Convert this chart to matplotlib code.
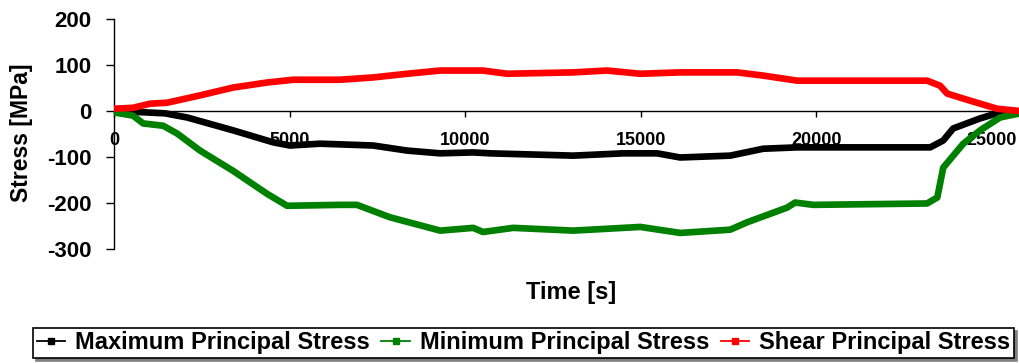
import matplotlib
matplotlib.use("Agg")
import matplotlib.pyplot as plt
from matplotlib.lines import Line2D

plt.rcParams['font.family'] = ['Liberation Sans', 'DejaVu Sans']
plt.rcParams['font.weight'] = 'bold'
plt.rcParams['axes.unicode_minus'] = False

# Time [s] and stress [MPa] for each principal stress series
max_time = [0, 370, 1450, 2080, 3390, 4530, 5010, 5870, 7380, 8350, 9290, 10230,
            10710, 12140, 13080, 14500, 15470, 16125, 17550, 18490, 19460, 20880,
            23250, 23620, 23900, 24670, 25240, 25810]
max_stress = [0, -1, -5, -14, -42, -68, -75, -71, -75, -86, -92, -90,
              -92, -95, -97, -92, -92, -101, -97, -82, -79, -79,
              -79, -64, -38, -16, -3, -3]

min_time = [0, 540, 830, 1400, 1800, 2450, 3390, 4360, 4930, 6440, 6920, 7860,
            9290, 10230, 10510, 11370, 13080, 14990, 16125, 17550, 18030, 19170,
            19400, 19920, 23160, 23450, 23620, 24190, 24670, 25240, 25810]
min_stress = [-3, -10, -27, -32, -49, -86, -130, -180, -206, -204, -204, -231,
              -260, -254, -263, -254, -260, -252, -265, -258, -242, -210,
              -199, -204, -201, -188, -123, -71, -42, -14, -5]

shear_time = [0, 540, 1030, 1510, 2450, 3390, 4360, 5100, 6440, 7380, 8350, 9290,
              10510, 11200, 13080, 14040, 14990, 16125, 17750, 18490, 19460, 23160,
              23530, 23730, 24190, 24670, 25150, 25810]
shear_stress = [5, 7, 16, 18, 34, 51, 62, 68, 68, 73, 81, 88,
                88, 81, 84, 88, 81, 84, 84, 77, 66, 66,
                55, 38, 27, 16, 5, 0]

series_names = ["Maximum Principal Stress", "Minimum Principal Stress",
                "Shear Principal Stress"]
series_colors = ["#000000", "#008000", "#FF0000"]

x_ticks = [0, 5000, 10000, 15000, 20000, 25000]
y_ticks = [-300, -200, -100, 0, 100, 200]

fig = plt.figure(figsize=(10.2, 3.63), dpi=100)
ax = fig.add_axes([0.1118, 0.3140, 0.888, 0.6336])

series = [(max_time, max_stress), (min_time, min_stress), (shear_time, shear_stress)]
for (t, s), color in zip(series, series_colors):
    ax.plot(t, s, color=color, lw=4.8, solid_joinstyle='round',
            solid_capstyle='butt', zorder=3)

ax.set_xlim(0, 25800)
ax.set_ylim(-300, 200)
ax.set_axisbelow(True)

for side in ("top", "right"):
    ax.spines[side].set_visible(False)
ax.spines['bottom'].set_position(('data', 0))
ax.spines['bottom'].set_linewidth(1.0)
ax.spines['left'].set_linewidth(1.0)

ax.set_xticks(x_ticks)
ax.set_xticklabels([str(v) for v in x_ticks])
ax.set_yticks(y_ticks)
ax.set_yticklabels([str(v) for v in y_ticks])
ax.tick_params(axis='x', direction='out', length=4, width=1, pad=11,
               labelsize=13)
ax.tick_params(axis='y', direction='out', length=6, width=1, pad=10,
               labelsize=16)
for lab in ax.get_xticklabels() + ax.get_yticklabels():
    lab.set_fontweight('bold')

fig.text(22 / 1020, 1 - 133 / 363, "Stress [MPa]", rotation=90,
         ha='center', va='center', fontsize=16.5, fontweight='bold')
fig.text(571 / 1020, 1 - 292 / 363, "Time [s]", ha='center', va='center',
         fontsize=17, fontweight='bold')

handles = [Line2D([], [], color=c, lw=1.3, marker='s', markersize=4.5)
           for c in series_colors]
leg = fig.legend(handles, series_names, loc='center',
                 bbox_to_anchor=(523.5 / 1020, 1 - 343 / 363), ncol=3,
                 prop={'size': 17, 'weight': 'bold'}, frameon=True,
                 fancybox=False, edgecolor='black', handlelength=1.2,
                 handletextpad=0.42, columnspacing=0.5, borderpad=0.15,
                 borderaxespad=0, shadow={'color': '#808080', 'alpha': 1})
leg.get_frame().set_linewidth(1.2)

fig.savefig("out.png", dpi=100)
